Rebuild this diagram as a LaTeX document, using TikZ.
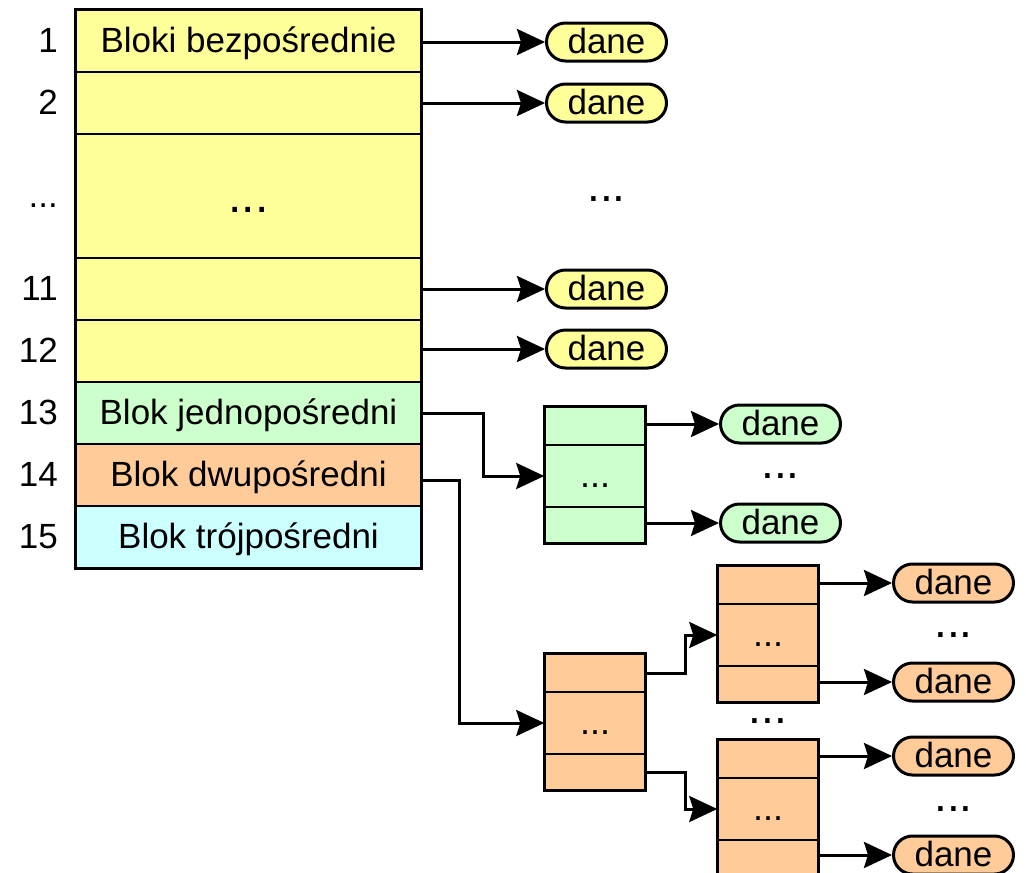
\documentclass[tikz,border=0pt]{standalone}
\usepackage{fontspec}
\setmainfont{Liberation Sans}
\usetikzlibrary{arrows.meta,positioning}

\definecolor{blokY}{HTML}{FFFF99}
\definecolor{blokG}{HTML}{CCFFCC}
\definecolor{blokO}{HTML}{FFCC99}
\definecolor{blokC}{HTML}{CCFFFF}

\tikzset{
  >={Stealth[length=28pt,width=26pt,inset=4pt]},
  every node/.style={font=\fontsize{35}{42}\selectfont, text height=26pt, text depth=4pt, inner sep=0pt},
  row/.style={draw, line width=1.5pt, minimum width=345pt, minimum height=62pt},
  cell/.style={draw, line width=1.5pt, minimum width=100pt, minimum height=#1},
  dane/.style={draw, line width=3pt, minimum width=120pt, minimum height=38pt, rounded corners=19pt},
  dots/.style={anchor=base, font=\fontsize{46}{50}\selectfont},
  link/.style={->, line width=3pt},
  frame/.style={line width=3pt}
}

\begin{document}
\begin{tikzpicture}[x=1pt,y=-1pt]
    \useasboundingbox (0,0) rectangle (1026,873);

    % table of blocks
    \node[row, fill=blokY] (r1) at (248.5,41) {Bloki bezpośrednie};
    \node[row, fill=blokY] (r2) at (248.5,103) {};
    \node[row, fill=blokY, minimum height=124pt, text height=36pt, font=\fontsize{48}{56}\selectfont] (rdots) at (248.5,196) {...};
    \node[row, fill=blokY] (r11) at (248.5,289) {};
    \node[row, fill=blokY] (r12) at (248.5,351) {};
    \node[row, fill=blokG] (r13) at (248.5,413) {Blok jednopośredni};
    \node[row, fill=blokO] (r14) at (248.5,475) {Blok dwupośredni};
    \node[row, fill=blokC] (r15) at (248.5,537) {Blok trójpośredni};
    \draw[frame] (r1.north west) rectangle (r15.south east);

    \node[anchor=east] (n1) at (58,41) {1};
    \node[anchor=east] (n2) at (58,103) {2};
    \node[anchor=east] (ndots) at (58,196) {...};
    \node[anchor=east] (n11) at (58,289) {11};
    \node[anchor=east] (n12) at (58,351) {12};
    \node[anchor=east] (n13) at (58,413) {13};
    \node[anchor=east] (n14) at (58,475) {14};
    \node[anchor=east] (n15) at (58,537) {15};

    % direct data
    \node[dane, fill=blokY] (d1) at (606.5,42) {dane};
    \node[dane, fill=blokY] (d2) at (606.5,103) {dane};
    \node[dots] (ddots) at (606.5,201) {...};
    \node[dane, fill=blokY] (d11) at (606.5,289) {dane};
    \node[dane, fill=blokY] (d12) at (606.5,349) {dane};
    \draw[link] (r1.east |- d1) -- (d1.west);
    \draw[link] (r2.east |- d2) -- (d2.west);
    \draw[link] (r11.east |- d11) -- (d11.west);
    \draw[link] (r12.east |- d12) -- (d12.west);

    % single indirect
    \node[cell=38pt, fill=blokG] (gA) at (595,426) {};
    \node[cell=62pt, fill=blokG, font=\fontsize{36}{40}\selectfont] (gB) at (595,476) {...};
    \node[cell=36pt, fill=blokG] (gC) at (595,525) {};
    \draw[frame] (gA.north west) rectangle (gC.south east);
    \node[dane, fill=blokG] (gd1) at (780.5,424) {dane};
    \node[dots] (gdots) at (780.5,478) {...};
    \node[dane, fill=blokG] (gd2) at (780.5,523) {dane};
    \draw[link] (r13.east) -- ++(62,0) |- (gB.west);
    \draw[link] (gA.east |- gd1) -- (gd1.west);
    \draw[link] (gC.east |- gd2) -- (gd2.west);

    % double indirect
    \node[cell=38pt, fill=blokO] (oA) at (595,673) {};
    \node[cell=62pt, fill=blokO, font=\fontsize{36}{40}\selectfont] (oB) at (595,723) {...};
    \node[cell=36pt, fill=blokO] (oC) at (595,772) {};
    \draw[frame] (oA.north west) rectangle (oC.south east);
    \draw[link] ([yshift=-5pt]r14.east) -- ++(38,0) |- (oB.west);

    \node[cell=38pt, fill=blokO] (paA) at (768,585) {};
    \node[cell=62pt, fill=blokO, font=\fontsize{36}{40}\selectfont] (paB) at (768,635) {...};
    \node[cell=36pt, fill=blokO] (paC) at (768,684) {};
    \draw[frame] (paA.north west) rectangle (paC.south east);
    \node[dots] (odots) at (768,723) {...};

    \node[cell=38pt, fill=blokO] (pbA) at (768,759) {};
    \node[cell=62pt, fill=blokO, font=\fontsize{36}{40}\selectfont] (pbB) at (768,809) {...};
    \node[cell=36pt, fill=blokO] (pbC) at (768,858) {};
    \draw[frame] (pbA.north west) rectangle (pbC.south east);

    \draw[link] (oA.east) -- ++(40,0) |- (paB.west);
    \draw[link] (oC.east) -- ++(40,0) |- (pbB.west);

    \node[dane, fill=blokO] (pad1) at (953.5,583) {dane};
    \node[dots] (padots) at (953.5,637) {...};
    \node[dane, fill=blokO] (pad2) at (953.5,682) {dane};
    \node[dane, fill=blokO] (pbd1) at (953.5,756) {dane};
    \node[dots] (pbdots) at (953.5,811) {...};
    \node[dane, fill=blokO] (pbd2) at (953.5,855) {dane};
    \draw[link] (paA.east |- pad1) -- (pad1.west);
    \draw[link] (paC.east |- pad2) -- (pad2.west);
    \draw[link] (pbA.east |- pbd1) -- (pbd1.west);
    \draw[link] (pbC.east |- pbd2) -- (pbd2.west);
\end{tikzpicture}
\end{document}
